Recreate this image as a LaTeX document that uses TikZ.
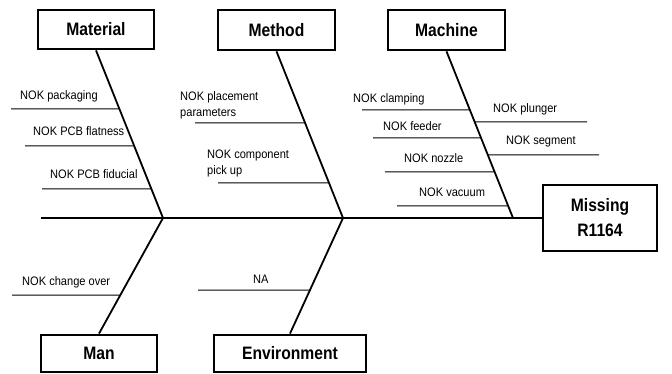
\documentclass[tikz,border=0pt]{standalone}
\usepackage{fontspec}
\newfontfamily\fishfont[FakeStretch=0.9]{Liberation Sans}
\newfontfamily\headfont[FakeStretch=0.87]{Liberation Sans}
\usetikzlibrary{calc,intersections}

\begin{document}
\begin{tikzpicture}[x=1pt,y=-1pt,
                    cat node/.style={draw,line width=2.8pt,inner sep=0pt,align=center,
                                     font=\headfont\bfseries\fontsize{18}{25}\selectfont},
                    cause node/.style={anchor=north west,inner sep=0pt,align=left,
                                       font=\fishfont\fontsize{12.3}{16}\selectfont},
                    spine/.style={line width=2pt},
                    bone/.style={line width=1.8pt},
                    twig/.style={line width=1pt}]

  \useasboundingbox (0,0) rectangle (672,374);

  \node[cat node,minimum width=116pt,minimum height=39pt] (1) at (96,29.5) {Material};
  \node[cat node,minimum width=117pt,minimum height=40pt] (2) at (276.5,30) {Method};
  \node[cat node,minimum width=117pt,minimum height=40pt] (3) at (446.5,30) {Machine};
  \node[cat node,minimum width=116pt,minimum height=37pt] (4) at (99,353.5) {Man};
  \node[cat node,minimum width=152pt,minimum height=37pt] (5) at (290,353.5) {Environment};
  \node[cat node,minimum width=114pt,minimum height=66pt] (6) at (600,218) {Missing\\R1164};

  \coordinate (tail) at (41,218);
  \coordinate (j1) at (163,218);
  \coordinate (j2) at (343,218);
  \coordinate (j3) at (513,218);

  \draw[spine] (tail) -- (6);
  \draw[bone,name path=b1] (1.south) -- (j1);
  \draw[bone,name path=b2] (2.south) -- (j2);
  \draw[bone,name path=b3] (3.south) -- (j3);
  \draw[bone,name path=b4] (4.north) -- (j1);
  \draw[bone,name path=b5] (5.north) -- (j2);

  \foreach \n/\x/\y/\tx/\ty/\p/\t in {
      a/11/109/20/90/b1/{NOK packaging},
      b/25/146/33/126/b1/{NOK PCB flatness},
      c/42/189/50/169/b1/{NOK PCB fiducial},
      d/195/123/180/91/b2/{NOK placement\\parameters},
      e/218/183/207/150/b2/{NOK component\\pick up},
      f/362/110/353/93/b3/{NOK clamping},
      g/373/138/383/121/b3/{NOK feeder},
      h/385/172/404/153/b3/{NOK nozzle},
      i/397/206/419/188/b3/{NOK vacuum},
      k/587/122/493/103/b3/{NOK plunger},
      l/599/155/506/136/b3/{NOK segment},
      m/12/295/22/276/b4/{NOK change over},
      n/198/290/253/275/b5/{NA}}
  {
    \coordinate (tw\n) at (\x,\y);
    \path[name path=h\n] (\x-700,\y) -- (\x+700,\y);
    \draw[twig,name intersections/.expanded={of=\p\space and h\n,by=bn\n}] (tw\n) -- (bn\n);
    \node[cause node] (t\n) at (\tx,\ty) {\t};
  }

\end{tikzpicture}
\end{document}
